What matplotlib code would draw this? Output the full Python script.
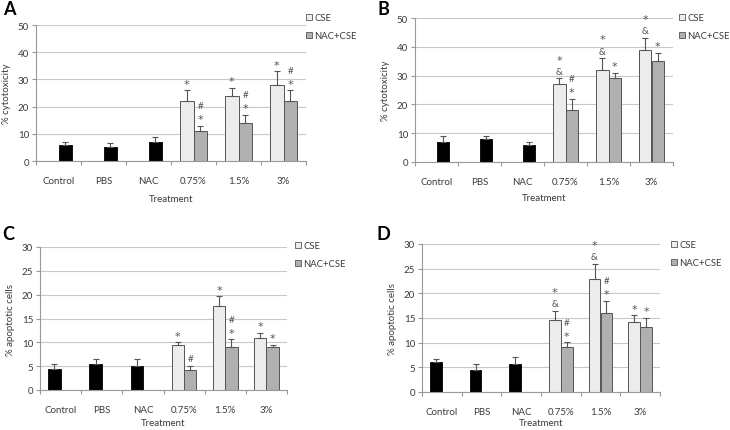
import matplotlib
matplotlib.use("Agg")
import matplotlib.pyplot as plt
from matplotlib.patches import Patch
import numpy as np

plt.rcParams['font.family'] = ['Lato', 'DejaVu Sans']

categories = ["Control", "PBS", "NAC", "0.75%", "1.5%", "3%"]
series_names = ["CSE", "NAC+CSE"]

# panel A - cytotoxicity
a_ctrl = [6, 5, 7]
a_ctrl_err = [1, 1.5, 2]
a_cse = [22, 24, 28]
a_cse_err = [4, 3, 5]
a_nac = [11, 14, 22]
a_nac_err = [2, 3, 4]
a_cse_marks = [["*"], ["*"], ["*"]]
a_nac_marks = [["*", "#"], ["*", "#"], ["*", "#"]]

# panel B - cytotoxicity
b_ctrl = [7, 8, 6]
b_ctrl_err = [2, 1, 1]
b_cse = [27, 32, 39]
b_cse_err = [2, 4, 4]
b_nac = [18, 29, 35]
b_nac_err = [4, 2, 3]
b_cse_marks = [["&", "*"], ["&", "*"], ["&", "*"]]
b_nac_marks = [["*", "#"], ["*"], ["*"]]

# panel C - apoptosis
c_ctrl = [4.5, 5.5, 5.0]
c_ctrl_err = [1.0, 0.9, 1.5]
c_cse = [9.4, 17.7, 11.0]
c_cse_err = [0.6, 2.0, 1.0]
c_nac = [4.1, 9.1, 9.1]
c_nac_err = [1.0, 1.5, 0.4]
c_cse_marks = [["*"], ["*"], ["*"]]
c_nac_marks = [["#"], ["*", "#"], ["*"]]

# panel D - apoptosis
d_ctrl = [6.0, 4.5, 5.6]
d_ctrl_err = [0.6, 1.1, 1.4]
d_cse = [14.5, 23.0, 14.1]
d_cse_err = [2.0, 3.0, 1.5]
d_nac = [9.1, 16.0, 13.1]
d_nac_err = [1.0, 2.5, 2.0]
d_cse_marks = [["&", "*"], ["&", "*"], ["*"]]
d_nac_marks = [["*", "#"], ["*", "#"], ["*"]]

W, H = 730, 431
fig = plt.figure(figsize=(W / 100, H / 100), dpi=100)

TXT = "#3a3a3a"
EDGE = "#555555"
BW = 0.3


def rect(l, t, r, b):
    return [l / W, 1 - b / H, (r - l) / W, (b - t) / H]


def marks(ax, xs, tops, labels):
    for x, top, labs in zip(xs, tops, labels):
        for i, s in enumerate(labs):
            if s == "*":
                ax.annotate(s, (x, top), xytext=(0, 1 + 9 * i), textcoords="offset points",
                            ha="center", va="bottom", fontsize=8, color="#555555",
                            family="DejaVu Sans")
            else:
                ax.annotate(s, (x, top), xytext=(0, 2 + 9 * i), textcoords="offset points",
                            ha="center", va="bottom", fontsize=7, color="#555555")


def panel(box, letter, letter_xy, leg_xy, ctrl, ctrl_err, cse, cse_err, nac, nac_err,
          cse_marks, nac_marks, ymax, ystep, ylabel, ctrl_side, xpad):
    ax = fig.add_axes(rect(*box))
    x = np.arange(len(categories))
    xc = x[:3] + ctrl_side * BW / 2
    xt = x[3:]
    ax.set_axisbelow(True)
    ax.grid(axis="y", color="#c8c8c8", lw=0.8)
    ekw = dict(ecolor=EDGE, elinewidth=0.8, capsize=2, capthick=0.8)
    ax.bar(xc, ctrl, BW, color="black", edgecolor="black", lw=0.6,
           yerr=[np.zeros(3), ctrl_err], error_kw=ekw)
    ax.bar(xt - BW / 2, cse, BW, color="#ececec", edgecolor=EDGE, lw=0.7,
           yerr=[np.zeros(3), cse_err], error_kw=ekw)
    ax.bar(xt + BW / 2, nac, BW, color="#b0b0b0", edgecolor=EDGE, lw=0.7,
           yerr=[np.zeros(3), nac_err], error_kw=ekw)
    marks(ax, xt - BW / 2, np.add(cse, cse_err), cse_marks)
    marks(ax, xt + BW / 2, np.add(nac, nac_err), nac_marks)

    ax.set_xlim(-0.5, len(categories) - 0.5)
    ax.set_ylim(0, ymax)
    ax.set_yticks(np.arange(0, ymax + 0.1, ystep))
    ax.set_xticks(x)
    ax.set_xticklabels(categories)
    ax.set_xticks(np.arange(-0.5, len(categories)), minor=True)
    ax.tick_params(axis="x", which="major", length=0, pad=11, labelsize=7, colors=TXT)
    ax.tick_params(axis="x", which="minor", length=3, color="#999999", width=0.8)
    ax.tick_params(axis="y", length=3, color="#999999", width=0.8, labelsize=7, colors=TXT, pad=2)
    for s in ["top", "right"]:
        ax.spines[s].set_visible(False)
    for s in ["left", "bottom"]:
        ax.spines[s].set_color("#999999")
        ax.spines[s].set_linewidth(0.8)
    ax.set_xlabel("Treatment", fontsize=7, color=TXT, labelpad=xpad)
    ax.set_ylabel(ylabel, fontsize=7, color=TXT, labelpad=5)

    fig.text(letter_xy[0] / W, 1 - letter_xy[1] / H, letter, fontsize=13,
             fontweight="bold", va="top", ha="left", color="black")
    handles = [Patch(facecolor="#ececec", edgecolor=EDGE, lw=0.6),
               Patch(facecolor="#b0b0b0", edgecolor=EDGE, lw=0.6)]
    fig.legend(handles, series_names, loc="upper left",
               bbox_to_anchor=(leg_xy[0] / W, 1 - leg_xy[1] / H),
               frameon=False, fontsize=6.8, handlelength=0.6, handleheight=0.6,
               handletextpad=0.3, labelspacing=1.0, borderpad=0, borderaxespad=0,
               labelcolor=TXT)
    return ax


panel((36, 26, 306, 162), "A", (3, 1), (306, 14), a_ctrl, a_ctrl_err, a_cse, a_cse_err,
      a_nac, a_nac_err, a_cse_marks, a_nac_marks, 50, 10, "% cytotoxicity", 1, 6)
panel((415, 19, 673, 163), "B", (377, 1), (679, 14), b_ctrl, b_ctrl_err, b_cse, b_cse_err,
      b_nac, b_nac_err, b_cse_marks, b_nac_marks, 50, 10, "% cytotoxicity", 1, 5)
panel((40, 248, 287, 391), "C", (2, 226), (295, 242), c_ctrl, c_ctrl_err, c_cse, c_cse_err,
      c_nac, c_nac_err, c_cse_marks, c_nac_marks, 30, 5, "% apoptotic cells", -1, 3)
panel((422, 245, 660, 393), "D", (376, 226), (671, 241), d_ctrl, d_ctrl_err, d_cse, d_cse_err,
      d_nac, d_nac_err, d_cse_marks, d_nac_marks, 30, 5, "% apoptotic cells", -1, 1.5)

fig.savefig("out.png", dpi=100)
